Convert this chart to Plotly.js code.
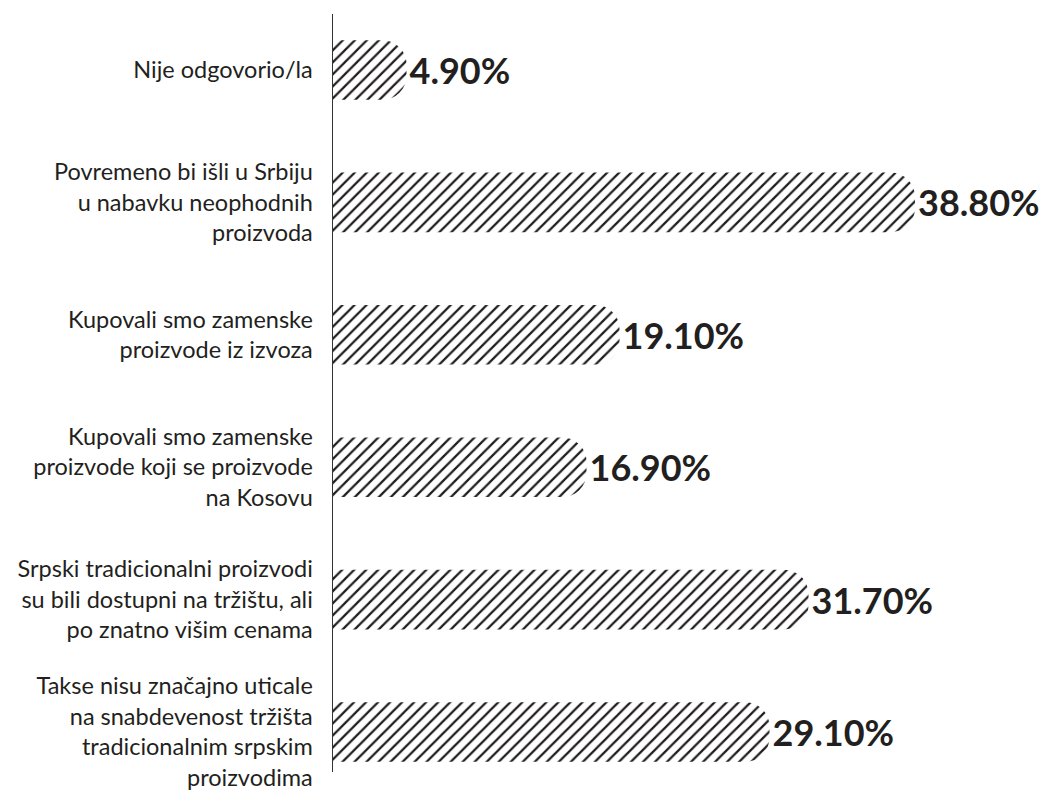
<!DOCTYPE html>
<html>
<head>
<meta charset="utf-8">
<script src="https://cdn.plot.ly/plotly-3.0.1.min.js"></script>
<style>
  html, body { margin: 0; padding: 0; background: #ffffff; }
  #chart { width: 1054px; height: 799px; }
</style>
</head>
<body>
<div id="chart"></div>
<script>
// Categories, top to bottom
const categories = [
  "Nije odgovorio/la",
  "Povremeno bi išli u Srbiju<br>u nabavku neophodnih<br>proizvoda",
  "Kupovali smo zamenske<br>proizvode iz izvoza",
  "Kupovali smo zamenske<br>proizvode koji se proizvode<br>na Kosovu",
  "Srpski tradicionalni proizvodi<br>su bili dostupni na tržištu, ali<br>po znatno višim cenama",
  "Takse nisu značajno uticale<br>na snabdevenost tržišta<br>tradicionalnim srpskim<br>proizvodima"
];
// Percent values
const values = [4.9, 38.8, 19.1, 16.9, 31.7, 29.1];
const valueLabels = values.map(v => v.toFixed(2) + "%");

const trace = {
  type: "bar",
  orientation: "h",
  y: categories,
  x: values,
  text: valueLabels,
  textposition: "outside",
  cliponaxis: false,
  textfont: { family: "Lato, sans-serif", size: 36, color: "#231f20", weight: 700 },
  marker: {
    color: "#ffffff",
    cornerradius: 24,
    line: { width: 0 },
    pattern: { shape: "/", size: 8.5, solidity: 0.26, fgcolor: "#1f1c1d", bgcolor: "#ffffff", fillmode: "replace" }
  },
  hoverinfo: "skip"
};

const layout = {
  width: 1054,
  height: 799,
  margin: { l: 333, r: 10, t: 14, b: 27 },
  paper_bgcolor: "#ffffff",
  plot_bgcolor: "#ffffff",
  showlegend: false,
  bargap: 0.55,
  xaxis: {
    range: [0, 47.4],
    visible: false,
    showgrid: false,
    zeroline: false
  },
  yaxis: {
    type: "category",
    categoryorder: "array",
    categoryarray: categories,
    range: [5.302, -0.423],
    showline: true,
    linecolor: "#333333",
    linewidth: 1.5,
    ticks: "",
    showgrid: false,
    zeroline: false,
    ticklabelstandoff: 14,
    tickfont: { family: "Lato, sans-serif", size: 23.5, color: "#231f20" }
  },
  hovermode: false
};

Plotly.newPlot("chart", [trace], layout, { displayModeBar: false, staticPlot: true });
</script>
</body>
</html>
